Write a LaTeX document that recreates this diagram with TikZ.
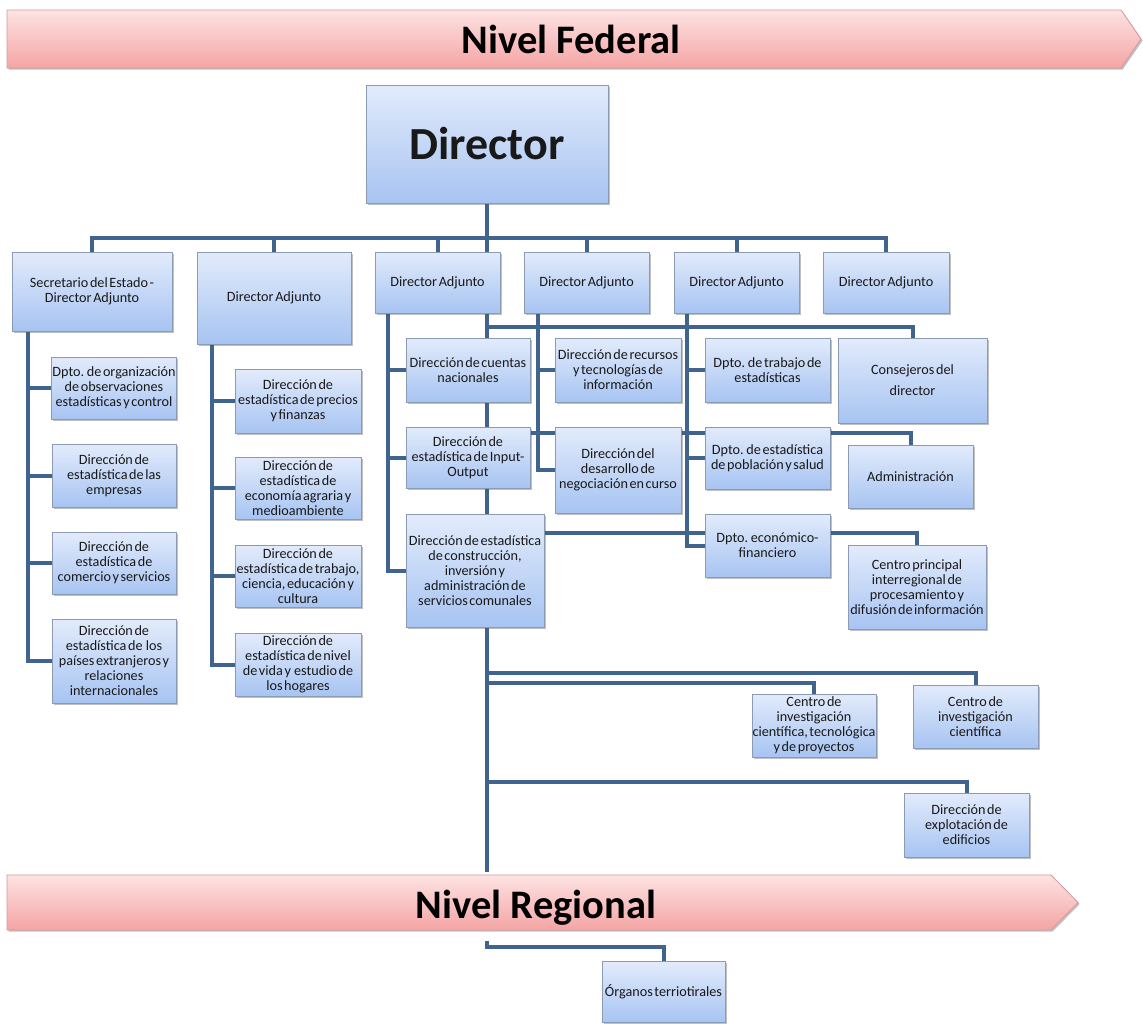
\documentclass[tikz,border=0pt]{standalone}
\usepackage{fontspec}
\setmainfont{Carlito}[WordSpace=0.5]
\newfontfamily\banfont{Carlito}
\usetikzlibrary{shadows}
\pgfdeclarelayer{bg}
\pgfsetlayers{bg,main}
\definecolor{boxtop}{HTML}{E2EBFB}
\definecolor{boxbot}{HTML}{A7C4F2}
\definecolor{boxborder}{HTML}{8A9BB3}
\definecolor{linecol}{HTML}{41648F}
\definecolor{bantop}{HTML}{FDE3E3}
\definecolor{banbot}{HTML}{F5A4A4}
\definecolor{banborder}{HTML}{D79A9A}
\tikzset{
  box/.style={draw=boxborder, line width=0.8pt, top color=boxtop, bottom color=boxbot,
    align=center, inner sep=0.5pt, text=black!90,
    font=\fontsize{14.2}{15}\selectfont,
    drop shadow={shadow xshift=1.6pt, shadow yshift=-1.6pt, opacity=0.35, fill=black!70}},
  banner/.style={draw=banborder, line width=0.8pt, top color=bantop, bottom color=banbot,
    drop shadow={shadow xshift=1.6pt, shadow yshift=-1.6pt, opacity=0.35, fill=black!70}},
  bantext/.style={font=\banfont\fontsize{40.5}{48}\selectfont\bfseries, inner sep=0pt, text=black},
  conn/.style={draw=linecol, line width=4pt, line join=miter}
}
\newcommand{\obox}[6]{\node[box, minimum width=#4pt, minimum height=#5pt] (#1) at (#2,#3) {#6};}
\begin{document}
\begin{tikzpicture}[x=1pt,y=-1pt]
\begin{pgfonlayer}{bg}
\fill[white] (0,0) rectangle (1143,1023);
\end{pgfonlayer}
\useasboundingbox (0,0) rectangle (1143,1023);

% banners
\path[banner] (7,10) -- (1121,10) -- (1141,39) -- (1121,68) -- (7,68) -- cycle;
\node[bantext, anchor=base] (fedtxt) at (571,53) {Nivel Federal};
\path[banner] (7,875) -- (1051,875) -- (1078,902.5) -- (1051,930) -- (7,930) -- cycle;
\node[bantext, anchor=base] (regtxt) at (536,918) {Nivel Regional};
\coordinate (regtop) at (0,872);

% director
\node[box, minimum width=242pt, minimum height=118pt, font=\banfont\fontsize{46}{50}\selectfont\bfseries] (dir) at (487,144) {Director};

% top row
\obox{sec}{92}{291.5}{160}{79}{Secretario del Estado -\\Director Adjunto}
\obox{da2}{274}{298}{154}{92}{Director Adjunto}
\obox{da3}{437.5}{282.5}{125}{61}{Director Adjunto}
\obox{da4}{586.5}{282.5}{125}{61}{Director Adjunto}
\obox{da5}{736.5}{282.5}{125}{61}{Director Adjunto}
\obox{da6}{886}{282.5}{126}{61}{Director Adjunto}

% column 1
\obox{k1}{114}{388}{124}{62}{Dpto. de organización\\de observaciones\\estadísticas y control}
\obox{k2}{114}{475.5}{124}{63}{Dirección de\\estadística de las\\empresas}
\obox{k3}{114}{563}{124}{62}{Dirección de\\estadística de\\comercio y servicios}
\obox{k4}{114}{661}{124}{84}{Dirección de\\estadística de \ los\\países extranjeros y\\relaciones\\internacionales}

% column 2
\obox{m1}{298}{401}{126}{64}{Dirección de\\estadística de precios\\y finanzas}
\obox{m2}{298}{488}{126}{62}{Dirección de\\estadística de\\economía agraria y\\medioambiente}
\obox{m3}{298}{576}{126}{62}{Dirección de\\estadística de trabajo,\\ciencia, educación y\\cultura}
\obox{m4}{298}{664.5}{126}{63}{Dirección de\\estadística de nivel\\de vida y \ estudio de\\los hogares}

% column 3
\obox{cn}{468}{370}{124}{64}{Dirección de cuentas\\nacionales}
\obox{io}{468}{457.5}{124}{61}{Dirección de\\estadística de Input-\\Output}
\obox{con}{475}{570.5}{138}{113}{Dirección de estadística\\de construcción,\\inversión y\\administración de\\servicios comunales}

% column 4
\obox{rec}{618}{370}{126}{64}{Dirección de recursos\\y tecnologías de\\información}
\obox{neg}{618}{470}{126}{86}{Dirección del\\desarrollo de\\negociación en curso}

% column 5
\obox{tra}{767.5}{370}{125}{64}{Dpto. de trabajo de\\estadísticas}
\obox{pob}{767.5}{458}{125}{62}{Dpto. de estadística\\de población y salud}
\obox{eco}{767.5}{545.5}{125}{63}{Dpto. económico-\\financiero}

% right side
\node[box, minimum width=149pt, minimum height=85pt, font=\fontsize{14.2}{21}\selectfont] (cons) at (912.5,380.5) {Consejeros del\\director};
\obox{adm}{910.5}{476.5}{125}{63}{Administración}
\obox{cp}{917}{587}{138}{84}{Centro principal\\interregional de\\procesamiento y\\difusión de información}

% bottom
\obox{citp}{814}{725.5}{124}{63}{Centro de\\investigación\\científica, tecnológica\\y de proyectos}
\obox{cic}{975.5}{716.5}{125}{63}{Centro de\\investigación\\científica}
\obox{ede}{966.5}{825}{125}{64}{Dirección de\\explotación de\\edificios}
\obox{org}{663.5}{992}{123}{61}{Órganos terriotirales}

% connectors
\coordinate (bar) at (0,238);
\coordinate (c1) at (28,0);
\coordinate (c2) at (212,0);
\coordinate (c3) at (388,0);
\coordinate (c4) at (538,0);
\coordinate (c5) at (687,0);
\coordinate (hcons) at (0,327);
\coordinate (hadm) at (0,433);
\coordinate (hcp) at (0,533);
\coordinate (hcic) at (0,673);
\coordinate (hcitp) at (0,683);
\coordinate (hede) at (0,782);
\coordinate (horga) at (0,941);
\coordinate (horgb) at (0,947);
\begin{pgfonlayer}{bg}
\draw[conn] (dir.south) -- (dir.south |- regtop);
\draw[conn] (sec.north) -- (sec.north |- bar) -- (da6.north |- bar) -- (da6.north);
\foreach \n in {da2,da3,da4,da5} \draw[conn] (\n.north |- bar) -- (\n.north);
\draw[conn] (c1 |- sec.south) |- (k4.west);
\foreach \n in {k1,k2,k3} \draw[conn] (c1 |- \n.west) -- (\n.west);
\draw[conn] (c2 |- da2.south) |- (m4.west);
\foreach \n in {m1,m2,m3} \draw[conn] (c2 |- \n.west) -- (\n.west);
\draw[conn] (c3 |- da3.south) |- (con.west);
\foreach \n in {cn,io} \draw[conn] (c3 |- \n.west) -- (\n.west);
\draw[conn] (c4 |- da4.south) |- (neg.west);
\draw[conn] (c4 |- rec.west) -- (rec.west);
\draw[conn] (c5 |- da5.south) |- (eco.west);
\foreach \n in {tra,pob} \draw[conn] (c5 |- \n.west) -- (\n.west);
\draw[conn] (dir.south |- hcons) -| (cons.north);
\draw[conn] (dir.south |- hadm) -| (adm.north);
\draw[conn] (dir.south |- hcp) -| (cp.north);
\draw[conn] (dir.south |- hcic) -| (cic.north);
\draw[conn] (dir.south |- hcitp) -| (citp.north);
\draw[conn] (dir.south |- hede) -| (ede.north);
\draw[conn] (dir.south |- horga) -- (dir.south |- horgb) -| (org.north);
\end{pgfonlayer}
\end{tikzpicture}
\end{document}
